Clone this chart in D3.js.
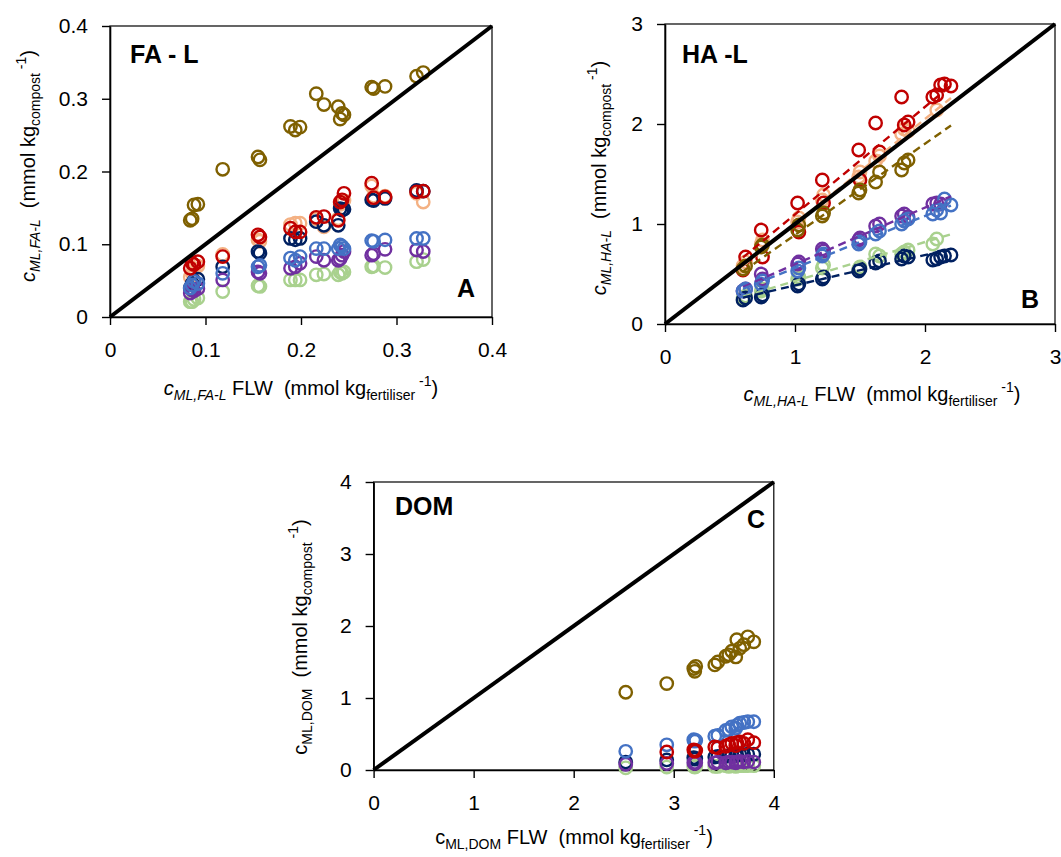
<!DOCTYPE html>
<html>
<head>
<meta charset="utf-8">
<script src="https://cdn.jsdelivr.net/npm/d3@7"></script>
<style>
  body { margin: 0; background: #fff; }
  svg { display: block; font-family: "Liberation Sans", Arial, sans-serif; }
  text { white-space: pre; }
</style>
</head>
<body>
<svg id="chart" width="1061" height="857"></svg>
<script>
// ---------- Panel A: FA-L ----------
const xFA = [0.084, 0.086, 0.088, 0.092, 0.118, 0.155, 0.157, 0.189, 0.194, 0.199, 0.216,
             0.224, 0.239, 0.241, 0.243, 0.245, 0.274, 0.276, 0.288, 0.321, 0.328];
const faOlive  = [0.133, 0.135, 0.154, 0.155, 0.203, 0.220, 0.216, 0.262, 0.257, 0.261, 0.307,
                  0.292, 0.289, 0.272, 0.280, 0.278, 0.316, 0.314, 0.317, 0.331, 0.336];
const faRed    = [0.067, 0.074, 0.072, 0.076, 0.083, 0.113, 0.110, 0.122, 0.117, 0.117, 0.137,
                  0.138, 0.133, 0.158, 0.161, 0.170, 0.184, 0.164, 0.165, 0.172, 0.173];
const faNavy   = [0.040, 0.046, 0.050, 0.052, 0.069, 0.090, 0.088, 0.108, 0.106, 0.108, 0.131,
                  0.126, 0.126, 0.149, 0.147, 0.148, 0.161, 0.160, 0.163, 0.174, 0.173];
const faPeach  = [0.055, 0.060, 0.066, 0.070, 0.086, 0.106, 0.104, 0.127, 0.129, 0.129, 0.135,
                  0.124, 0.135, 0.155, 0.158, 0.160, 0.180, 0.166, 0.166, 0.170, 0.158];
const faBlue   = [0.040, 0.044, 0.049, 0.046, 0.060, 0.069, 0.071, 0.081, 0.078, 0.083, 0.094,
                  0.094, 0.094, 0.099, 0.097, 0.094, 0.105, 0.104, 0.106, 0.108, 0.108];
const faPurple = [0.033, 0.037, 0.036, 0.039, 0.051, 0.062, 0.060, 0.067, 0.069, 0.074, 0.083,
                  0.078, 0.078, 0.080, 0.085, 0.090, 0.085, 0.087, 0.093, 0.092, 0.090];
const faGreen  = [0.021, 0.021, 0.024, 0.026, 0.035, 0.043, 0.042, 0.051, 0.051, 0.051, 0.058,
                  0.059, 0.058, 0.062, 0.060, 0.062, 0.069, 0.070, 0.068, 0.076, 0.079];
const faTicks = [0, 0.1, 0.2, 0.3, 0.4];
const faTickLabels = ["0", "0.1", "0.2", "0.3", "0.4"];

// ---------- Panel B: HA-L ----------
const xHA = [0.60, 0.62, 0.74, 0.75, 1.02, 1.03, 1.21, 1.22, 1.49, 1.50,
             1.62, 1.65, 1.82, 1.84, 1.87, 2.06, 2.09, 2.12, 2.15, 2.20];
const haRed    = [0.54, 0.67, 0.94, 0.67, 1.21, 0.92, 1.44, 1.21, 1.74, 1.44,
                  2.01, 1.72, 2.27, 1.99, 2.02, 2.27, 2.29, 2.39, 2.40, 2.38];
const haPeach  = [0.58, 0.62, 0.80, 0.84, 1.02, 1.06, 1.24, 1.29, 1.47, 1.52,
                  1.63, 1.68, 1.90, 1.95, 1.93, null, 2.14, null, null, null];
const haOlive  = [0.55, 0.58, 0.77, 0.79, 0.94, 0.99, 1.08, 1.11, 1.31, 1.34,
                  1.42, 1.52, 1.54, 1.61, 1.64, null, null, null, null, null];
const haPurple = [0.33, 0.35, 0.50, 0.45, 0.60, 0.62, 0.75, 0.73, 0.84, 0.86,
                  0.98, 1.00, 1.08, 1.10, 1.07, 1.20, 1.21, 1.20, null, null];
const haBlue   = [0.33, 0.35, 0.40, 0.43, 0.53, 0.56, 0.68, 0.70, 0.80, 0.82,
                  0.90, 0.93, 1.00, 1.03, 1.05, 1.10, 1.14, 1.11, 1.25, 1.19];
const haGreen  = [0.26, 0.28, 0.33, 0.35, 0.45, 0.47, 0.56, 0.59, 0.55, 0.57,
                  0.70, 0.68, 0.70, 0.72, 0.74, 0.80, 0.85, null, null, null];
const haNavy   = [0.24, 0.26, 0.27, 0.29, 0.38, 0.40, 0.45, 0.47, 0.53, 0.55,
                  0.61, 0.63, 0.65, 0.68, 0.67, 0.64, 0.65, 0.67, 0.68, 0.69];
// linear fits (slope, intercept) of each series in panel B
const haFitSlope     = { red: 1.075, peach: 1.05, olive: 0.912, purple: 0.567, blue: 0.52, green: 0.39, navy: 0.304 };
const haFitIntercept = { red: 0.021, peach: -0.05, olive: -0.021, purple: 0.03, blue: 0.04, green: 0.04, navy: 0.082 };
const haFitRange = [0.6, 2.2];
const haTicks = [0, 1, 2, 3];

// ---------- Panel C: DOM ----------
const xDOM = [2.52, 2.93, 3.20, 3.21, 3.22, 3.41, 3.44, 3.52, 3.55, 3.58, 3.62, 3.63, 3.66, 3.70, 3.74, 3.80];
const domOlive  = [1.08, 1.20, 1.41, 1.37, 1.44, 1.46, 1.50, 1.58, 1.60, 1.65, 1.57, 1.81, 1.69, 1.74, 1.85, 1.78];
const domBlue   = [0.26, 0.35, 0.42, 0.40, 0.41, 0.47, 0.48, 0.55, 0.56, 0.60, 0.58, 0.62, 0.65, 0.66, 0.67, 0.67];
const domRed    = [null, 0.25, 0.28, 0.26, 0.27, 0.32, 0.31, 0.33, 0.35, 0.37, 0.34, 0.38, 0.39, 0.37, 0.42, 0.38];
const domNavy   = [0.11, 0.14, 0.17, 0.15, 0.16, 0.18, 0.19, 0.19, 0.20, 0.21, 0.20, 0.21, 0.22, 0.21, 0.22, 0.22];
const domPurple = [0.08, 0.09, 0.10, 0.09, 0.10, 0.10, 0.11, 0.10, 0.11, 0.11, 0.10, 0.11, 0.12, 0.11, 0.12, 0.11];
const domGreen  = [0.03, 0.04, 0.05, 0.04, 0.05, 0.05, 0.05, 0.06, 0.05, 0.06, 0.05, 0.06, 0.06, 0.06, 0.06, 0.06];
const domTicks = [0, 1, 2, 3, 4];

const colors = {
  olive: "#7f6000", red: "#c00000", peach: "#f4b183", navy: "#002060",
  blue: "#4472c4", purple: "#7030a0", green: "#a9d18e"
};
// stacking order of the series (first drawn = bottom)
const drawOrder = ["green", "peach", "navy", "purple", "blue", "red", "olive"];

const svg = d3.select("#chart");

function richText(parent, parts, x, y, opts) {
  const size = opts.size || 20;
  const t = parent.append("text")
    .attr("x", x).attr("y", y)
    .attr("text-anchor", "middle")
    .attr("fill", "#000")
    .attr("font-size", size);
  if (opts.rotate) t.attr("transform", `rotate(-90,${x},${y})`);
  let shift = 0;
  parts.forEach(p => {
    const small = p.sub || p.sup;
    const target = p.sub ? 5 : (p.sup ? -9 : 0);
    const ts = t.append("tspan")
      .attr("font-size", small ? 14 : size)
      .attr("dy", target - shift)
      .text(p.t);
    if (p.i) ts.attr("font-style", "italic");
    shift = target;
  });
  return t;
}

function drawPanel(p) {
  const x = d3.scaleLinear().domain([0, p.max]).range([p.left, p.right]);
  const y = d3.scaleLinear().domain([0, p.max]).range([p.bottom, p.top]);
  const g = svg.append("g");

  g.append("rect")
    .attr("x", p.left).attr("y", p.top)
    .attr("width", p.right - p.left).attr("height", p.bottom - p.top)
    .attr("fill", "none").attr("stroke", "#000").attr("stroke-width", 1.2);

  const xAxis = d3.axisBottom(x).tickValues(p.ticks).tickFormat((d, i) => p.tickLabels[i])
    .tickSize(8).tickSizeOuter(0).tickPadding(17);
  const yAxis = d3.axisLeft(y).tickValues(p.ticks).tickFormat((d, i) => p.tickLabels[i])
    .tickSize(8).tickSizeOuter(0).tickPadding(14);
  const gx = g.append("g").attr("transform", `translate(0,${p.bottom})`).call(xAxis);
  const gy = g.append("g").attr("transform", `translate(${p.left},0)`).call(yAxis);
  [gx, gy].forEach(a => {
    a.select(".domain").attr("stroke", "#000").attr("stroke-width", 1.6);
    a.selectAll(".tick line").attr("stroke", "#000").attr("stroke-width", 1.4);
    a.selectAll(".tick text").attr("fill", "#000").attr("font-size", 21)
      .attr("font-family", "'Liberation Sans', Arial, sans-serif");
  });

  // observations
  drawOrder.forEach(key => {
    const vals = p.series[key];
    if (!vals) return;
    const pts = p.xs.map((xv, i) => [xv, vals[i]]).filter(d => d[1] !== null);
    g.append("g").selectAll("circle").data(pts).join("circle")
      .attr("cx", d => x(d[0])).attr("cy", d => y(d[1]))
      .attr("r", 6.2)
      .attr("fill", "none")
      .attr("stroke", colors[key])
      .attr("stroke-width", 2.4);
  });

  // fitted lines
  if (p.fits) {
    drawOrder.forEach(key => {
      const s = p.fits.slope[key];
      if (s === undefined) return;
      const b = p.fits.intercept[key];
      g.append("line")
        .attr("x1", x(p.fits.range[0])).attr("y1", y(s * p.fits.range[0] + b))
        .attr("x2", x(p.fits.range[1])).attr("y2", y(s * p.fits.range[1] + b))
        .attr("stroke", colors[key]).attr("stroke-width", 2.4)
        .attr("stroke-dasharray", "8,5");
    });
  }

  // 1:1 line
  g.append("line")
    .attr("x1", x(0)).attr("y1", y(0)).attr("x2", x(p.max)).attr("y2", y(p.max))
    .attr("stroke", "#000").attr("stroke-width", 4);

  // panel titles
  g.append("text").attr("x", p.name.x).attr("y", p.name.y)
    .attr("font-size", 25).attr("font-weight", "bold").attr("fill", "#000").text(p.name.t);
  g.append("text").attr("x", p.letter.x).attr("y", p.letter.y)
    .attr("font-size", 25).attr("font-weight", "bold").attr("fill", "#000").text(p.letter.t);

  richText(g, p.xTitle, p.xTitlePos[0], p.xTitlePos[1], {});
  richText(g, p.yTitle, p.yTitlePos[0], p.yTitlePos[1], { rotate: true });
}

drawPanel({
  max: 0.4, left: 110, right: 492, top: 26, bottom: 317,
  ticks: faTicks, tickLabels: faTickLabels, xs: xFA,
  series: { olive: faOlive, red: faRed, navy: faNavy, peach: faPeach, blue: faBlue, purple: faPurple, green: faGreen },
  name: { t: "FA - L", x: 130, y: 63 },
  letter: { t: "A", x: 457, y: 297 },
  xTitle: [{ t: "c", i: true }, { t: "ML,FA-L", i: true, sub: true }, { t: " FLW  (mmol kg" },
           { t: "fertiliser", sub: true }, { t: " -1", sup: true }, { t: ")" }],
  xTitlePos: [301, 395],
  yTitle: [{ t: "c", i: true }, { t: "ML,FA-L", i: true, sub: true }, { t: "  (mmol kg" },
           { t: "compost", sub: true }, { t: " -1", sup: true }, { t: ")" }],
  yTitlePos: [35, 166]
});

drawPanel({
  max: 3, left: 665, right: 1055, top: 24, bottom: 324,
  ticks: haTicks, tickLabels: haTicks.map(String), xs: xHA,
  series: { olive: haOlive, red: haRed, navy: haNavy, peach: haPeach, blue: haBlue, purple: haPurple, green: haGreen },
  fits: { slope: haFitSlope, intercept: haFitIntercept, range: haFitRange },
  name: { t: "HA -L", x: 682, y: 63 },
  letter: { t: "B", x: 1021, y: 308 },
  xTitle: [{ t: "c", i: true }, { t: "ML,HA-L", i: true, sub: true }, { t: " FLW  (mmol kg" },
           { t: "fertiliser", sub: true }, { t: " -1", sup: true }, { t: ")" }],
  xTitlePos: [882, 401],
  yTitle: [{ t: "c", i: true }, { t: "ML,HA-L", i: true, sub: true }, { t: "  (mmol kg" },
           { t: "compost", sub: true }, { t: " -1", sup: true }, { t: ")" }],
  yTitlePos: [606, 178]
});

drawPanel({
  max: 4, left: 373.6, right: 773.8, top: 482, bottom: 770,
  ticks: domTicks, tickLabels: domTicks.map(String), xs: xDOM,
  series: { olive: domOlive, red: domRed, navy: domNavy, blue: domBlue, purple: domPurple, green: domGreen },
  name: { t: "DOM", x: 395, y: 515 },
  letter: { t: "C", x: 747, y: 528 },
  xTitle: [{ t: "c" }, { t: "ML,DOM", sub: true }, { t: " FLW  (mmol kg" },
           { t: "fertiliser", sub: true }, { t: " -1", sup: true }, { t: ")" }],
  xTitlePos: [574, 844],
  yTitle: [{ t: "c" }, { t: "ML,DOM", sub: true }, { t: "  (mmol kg" },
           { t: "compost", sub: true }, { t: " -1", sup: true }, { t: ")" }],
  yTitlePos: [307, 637]
});
</script>
</body>
</html>
